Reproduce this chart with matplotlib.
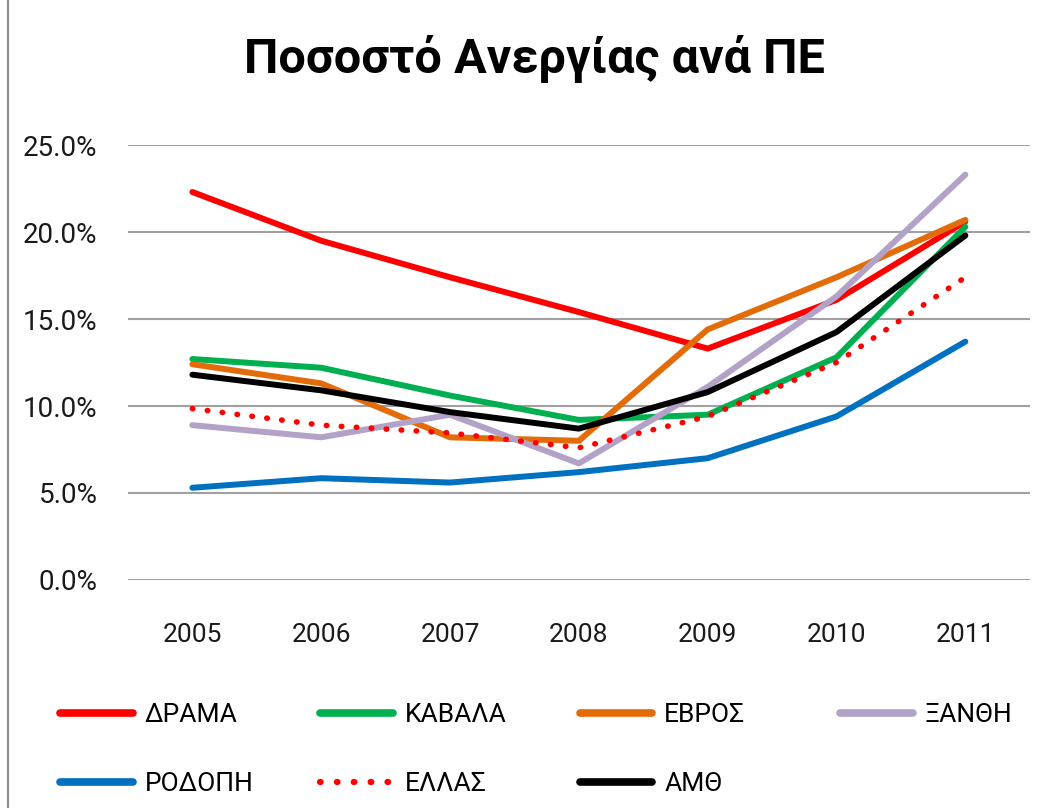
import matplotlib
matplotlib.use("Agg")
import matplotlib.pyplot as plt
from matplotlib.lines import Line2D
from matplotlib.ticker import FuncFormatter

plt.rcParams["font.family"] = ["Roboto", "DejaVu Sans"]

# Data (percent unemployment)
years = ["2005", "2006", "2007", "2008", "2009", "2010", "2011"]
drama = [22.3, 19.5, 17.4, 15.4, 13.3, 16.1, 20.6]
kavala = [12.7, 12.2, 10.6, 9.2, 9.5, 12.8, 20.3]
evros = [12.4, 11.3, 8.2, 8.0, 14.4, 17.4, 20.7]
xanthi = [8.9, 8.2, 9.5, 6.7, 11.1, 16.3, 23.3]
rodopi = [5.3, 5.85, 5.6, 6.2, 7.0, 9.4, 13.7]
ellas = [9.85, 8.9, 8.45, 7.6, 9.4, 12.5, 17.4]
amth = [11.8, 10.9, 9.65, 8.7, 10.8, 14.25, 19.8]

series = [
    ("ΔΡΑΜΑ", drama, "#FF0000", "-"),
    ("ΚΑΒΑΛΑ", kavala, "#00B050", "-"),
    ("ΕΒΡΟΣ", evros, "#E36C09", "-"),
    ("ΞΑΝΘΗ", xanthi, "#B3A2C7", "-"),
    ("ΡΟΔΟΠΗ", rodopi, "#0070C0", "-"),
    ("ΕΛΛΑΣ", ellas, "#FF0000", ":"),
    ("ΑΜΘ", amth, "#000000", "-"),
]

fig = plt.figure(figsize=(10.54, 8.08), dpi=100)
ax = fig.add_axes([0.1214, 0.2822, 0.8556, 0.5383])

x = range(len(years))
lines = {}
for name, vals, color, ls in series:
    if ls == ":":
        (ln,) = ax.plot(x, vals, color=color, lw=4, linestyle=(0, (0.1, 2.6)),
                        dash_capstyle="round", label=name)
    else:
        (ln,) = ax.plot(x, vals, color=color, lw=4.3, solid_capstyle="round",
                        solid_joinstyle="round", label=name)
    lines[name] = ln

ax.set_xlim(-0.5, 6.5)
ax.set_ylim(0, 25)
ax.set_yticks([0, 5, 10, 15, 20, 25])
ax.yaxis.set_major_formatter(FuncFormatter(lambda v, p: f"{v:.1f}%"))
ax.set_xticks(list(x))
ax.set_xticklabels(years)
ax.grid(axis="y", color="#A0A0A0", lw=1.5)
ax.set_axisbelow(True)
for s in ax.spines.values():
    s.set_visible(False)
ax.tick_params(axis="y", length=0, pad=22, labelsize=20, labelcolor="#1a1a1a")
ax.tick_params(axis="x", length=0, pad=31, labelsize=19, labelcolor="#1a1a1a")

fig.text(0.507, 0.927, "Ποσοστό Ανεργίας ανά ΠΕ", ha="center", va="center",
         fontsize=35, fontweight="bold")

# legend: one entry per slot, laid out row by row like the original
slots = [(0.057, 0.115), (0.304, 0.115), (0.550, 0.115), (0.797, 0.115),
         (0.057, 0.030), (0.304, 0.030), (0.550, 0.030)]
for (name, _, _, _), (lx, ly) in zip(series, slots):
    leg = fig.legend([lines[name]], [name], loc="center left",
                     bbox_to_anchor=(lx, ly), frameon=False, fontsize=19,
                     handlelength=2.75, handletextpad=0.45, borderpad=0,
                     borderaxespad=0)
    for h in leg.legend_handles:
        if name != "ΕΛΛΑΣ":
            h.set_linewidth(5.5)
        else:
            h.set_linewidth(4.5)

fig.add_artist(Line2D([0.008, 0.008], [0, 1], color="#888888", lw=1.5))

fig.savefig("out.png", dpi=100)
